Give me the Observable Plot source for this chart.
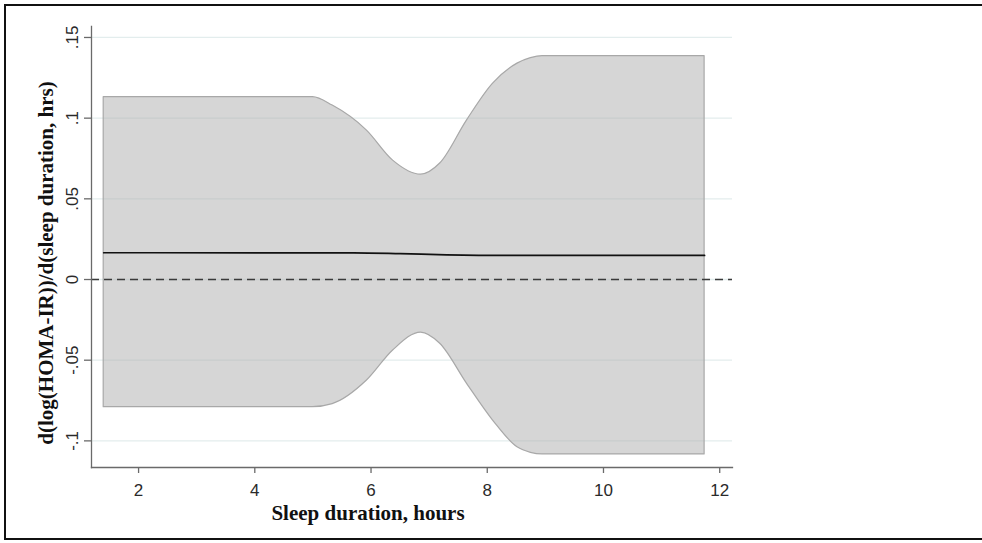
<!DOCTYPE html>
<html>
<head>
<meta charset="utf-8">
<script src="https://cdn.jsdelivr.net/npm/d3@7"></script>
<script src="https://cdn.jsdelivr.net/npm/@observablehq/plot@0.6"></script>
<style>
  html, body { margin: 0; padding: 0; background: #fff; }
  #wrap { position: relative; width: 982px; height: 543px; overflow: hidden; }
  #border { position: absolute; left: 4px; top: 4px; width: 1000px; height: 536px;
            border: 2.5px solid #111; pointer-events: none; box-sizing: border-box; }
</style>
</head>
<body>
<div id="wrap"><div id="border"></div></div>
<script>
// Sleep duration (hours) where the confidence band was read
const bandX     = [1.4, 5.0, 5.34, 5.93, 6.38, 6.86, 7.19, 7.65, 8.10, 8.52, 8.75, 8.95, 11.74];
const bandUpper = [0.113, 0.113, 0.1078, 0.0923, 0.0737, 0.065, 0.0719, 0.0985, 0.1214, 0.1338, 0.1372, 0.1385, 0.1385];
const bandLower = [-0.0791, -0.0791, -0.0772, -0.0626, -0.044, -0.0329, -0.0398, -0.0645, -0.0874, -0.104, -0.1074, -0.1084, -0.1084];

// Estimated marginal effect line
const lineX = [1.4, 5.7, 6.5, 7.3, 8.3, 11.74];
const lineY = [0.0166, 0.0165, 0.0160, 0.0153, 0.0149, 0.0149];

// Tick values and labels
const xTicks = [2, 4, 6, 8, 10, 12];
const yTicks = [-0.1, -0.05, 0, 0.05, 0.1, 0.15];
const yTickLabels = ["-.1", "-.05", "0", ".05", ".1", ".15"];

const xTitle = "Sleep duration, hours";
const yTitle = "d(log(HOMA-IR))/d(sleep duration, hrs)";

const band = bandX.map((x, i) => ({x, lo: bandLower[i], hi: bandUpper[i]}));
const line = lineX.map((x, i) => ({x, y: lineY[i]}));

const axisColor = "#6a6a6a";
const sans = "Liberation Sans, Arial, sans-serif";
const serif = "Liberation Serif, Times New Roman, serif";

const chart = Plot.plot({
  width: 982,
  height: 543,
  marginLeft: 91,
  marginRight: 250,
  marginTop: 26,
  marginBottom: 76,
  style: {background: "transparent", fontFamily: sans},
  x: {domain: [1.19, 12.22]},
  y: {domain: [-0.1165, 0.1568]},
  marks: [
    // gridlines
    Plot.ruleY(yTicks, {stroke: "#e3eded", strokeWidth: 1.3}),
    // confidence band
    Plot.areaY(band, {x: "x", y1: "lo", y2: "hi", curve: "monotone-x",
      fill: "#adadad", fillOpacity: 0.5, stroke: "#a8a8a8", strokeWidth: 1.2}),
    // zero reference
    Plot.ruleY([0], {stroke: "#3a3a3a", strokeWidth: 1.3, strokeDasharray: "8,5"}),
    // estimate
    Plot.line(line, {x: "x", y: "y", curve: "monotone-x", stroke: "#111", strokeWidth: 1.7}),
    // axis lines
    Plot.frame({anchor: "left", stroke: axisColor, strokeWidth: 1.3}),
    Plot.frame({anchor: "bottom", stroke: axisColor, strokeWidth: 1.3}),
    // ticks
    Plot.axisY({ticks: yTicks, tickSize: 7, tickFormat: () => "", label: null, stroke: axisColor, strokeWidth: 1.3}),
    Plot.axisX({ticks: xTicks, tickSize: 6, tickFormat: () => "", label: null, stroke: axisColor, strokeWidth: 1.3}),
    // tick labels
    Plot.text(yTicks, {y: d => d, text: (d, i) => yTickLabels[i], frameAnchor: "left", dx: -19,
      rotate: -90, textAnchor: "middle", lineAnchor: "middle", fontSize: 17, fill: "#2a2a2a", fontFamily: sans}),
    Plot.text(xTicks, {x: d => d, text: d => String(d), frameAnchor: "bottom", dy: 23,
      textAnchor: "middle", lineAnchor: "middle", fontSize: 17, fill: "#2a2a2a", fontFamily: sans}),
    // axis titles
    Plot.text([xTitle], {frameAnchor: "bottom", dx: -44, dy: 46, textAnchor: "middle", lineAnchor: "middle",
      fontSize: 21, fontWeight: "bold", fill: "#111", fontFamily: serif}),
    Plot.text([yTitle], {frameAnchor: "left", dx: -45, dy: 16, rotate: -90, textAnchor: "middle", lineAnchor: "middle",
      fontSize: 21, fontWeight: "bold", fill: "#111", fontFamily: serif})
  ]
});

document.getElementById("wrap").prepend(chart);
</script>
</body>
</html>
